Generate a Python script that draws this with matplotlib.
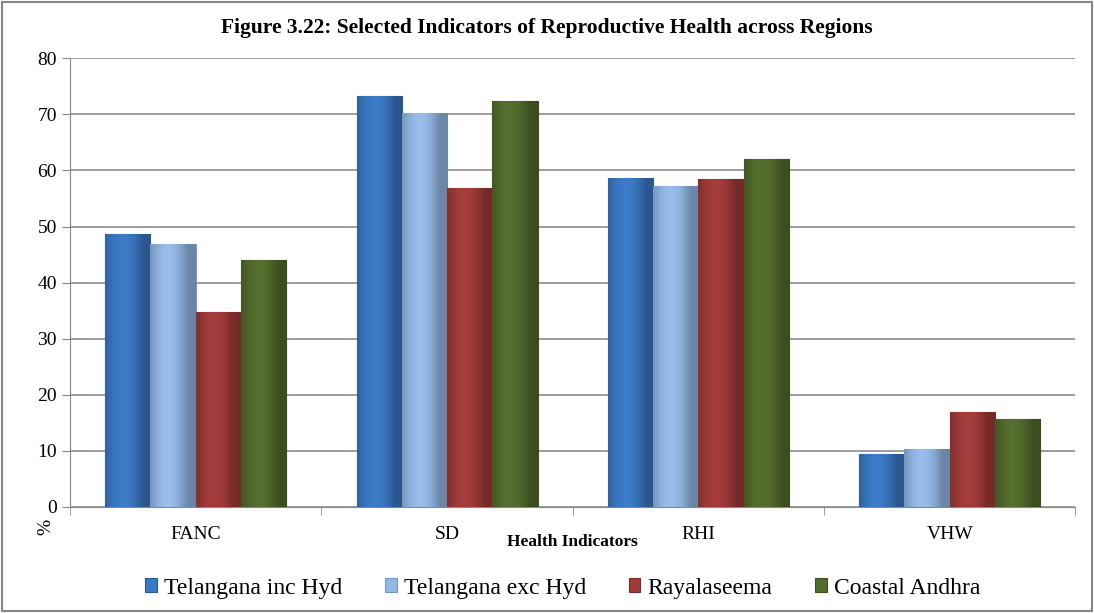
import numpy as np
import matplotlib.pyplot as plt
from matplotlib.patches import Rectangle
from matplotlib.colors import to_rgb
from matplotlib.font_manager import FontProperties

categories = ["FANC", "SD", "RHI", "VHW"]
series = ["Telangana inc Hyd", "Telangana exc Hyd", "Rayalaseema", "Coastal Andhra"]
tel_inc = [48.7, 73.2, 58.6, 9.5]
tel_exc = [46.8, 70.3, 57.3, 10.4]
rayala = [34.8, 56.8, 58.5, 16.9]
coastal = [44.0, 72.4, 62.0, 15.6]
values = [tel_inc, tel_exc, rayala, coastal]
colors = ["#3B78C3", "#94B8E6", "#A03B39", "#536B2C"]
edges = ["#2A5A96", "#7098C8", "#7A2A28", "#3D5020"]

plt.rcParams['font.family'] = ['Liberation Serif', 'DejaVu Serif']

fig = plt.figure(figsize=(10.94, 6.13), dpi=100)
ax = fig.add_axes([0.064, 0.173, 0.919, 0.732])

x = np.arange(len(categories))
w = 0.18


def shade(c):
    # simple left-to-right bevel look
    r = np.array(to_rgb(c))
    t = np.linspace(0, 1, 40)
    f = 0.82 + 0.25 * np.sin(np.pi * np.clip(t * 1.2, 0, 1)) - 0.1 * t
    img = np.clip(r[None, :] * f[:, None], 0, 1)
    return img[None, :, :]


for i, (vals, c, e) in enumerate(zip(values, colors, edges)):
    bars = ax.bar(x + (i - 1.5) * w, vals, width=w, color=c, edgecolor=e, linewidth=0.8,
                  label=series[i], zorder=3)
    for b in bars:
        x0, y0 = b.get_x(), b.get_y()
        im = ax.imshow(shade(c), extent=[x0, x0 + b.get_width(), y0, y0 + b.get_height()],
                       aspect='auto', zorder=3.5, interpolation='bilinear')
        im.set_clip_path(b)

ax.set_xlim(-0.5, 3.5)
ax.set_ylim(0, 80)
ax.set_yticks(range(0, 81, 10))
ax.set_xticks(x)
ax.set_xticklabels(categories, fontsize=14)
ax.set_xticks(np.arange(-0.5, 4, 1), minor=True)
ax.tick_params(axis='x', which='major', length=0, pad=14)
ax.tick_params(axis='x', which='minor', length=6, color='#888888')
ax.tick_params(axis='y', labelsize=14, length=6, color='#888888')
ax.yaxis.grid(True, color='#8c8c8c', linewidth=1.2, zorder=0)
for s in ['top', 'right']:
    ax.spines[s].set_visible(False)
for s in ['left', 'bottom']:
    ax.spines[s].set_color('#888888')

ax.set_xlabel("Health Indicators", fontsize=12.5, fontweight='bold', labelpad=-7)
fig.text(0.042, 0.14, "%", rotation=90, fontsize=14, ha='center', va='center')

fig.text(0.5, 0.955, "Figure 3.22: Selected Indicators of Reproductive Health across Regions",
         fontsize=15.5, fontweight='bold', ha='center', va='center')

leg_font = FontProperties(family='Liberation Serif', size=17)
leg = ax.legend(loc='upper center', bbox_to_anchor=(0.49, -0.11), ncol=4, frameon=False,
                prop=leg_font, handlelength=0.5, handleheight=0.5, handletextpad=0.3,
                columnspacing=1.8)
for t in leg.get_texts():
    t.set_fontproperties(leg_font)

fig.add_artist(Rectangle((0.002, 0.003), 0.996, 0.994, transform=fig.transFigure,
                         fill=False, edgecolor='#888888', linewidth=1.5))

fig.savefig("out.png", dpi=100)
